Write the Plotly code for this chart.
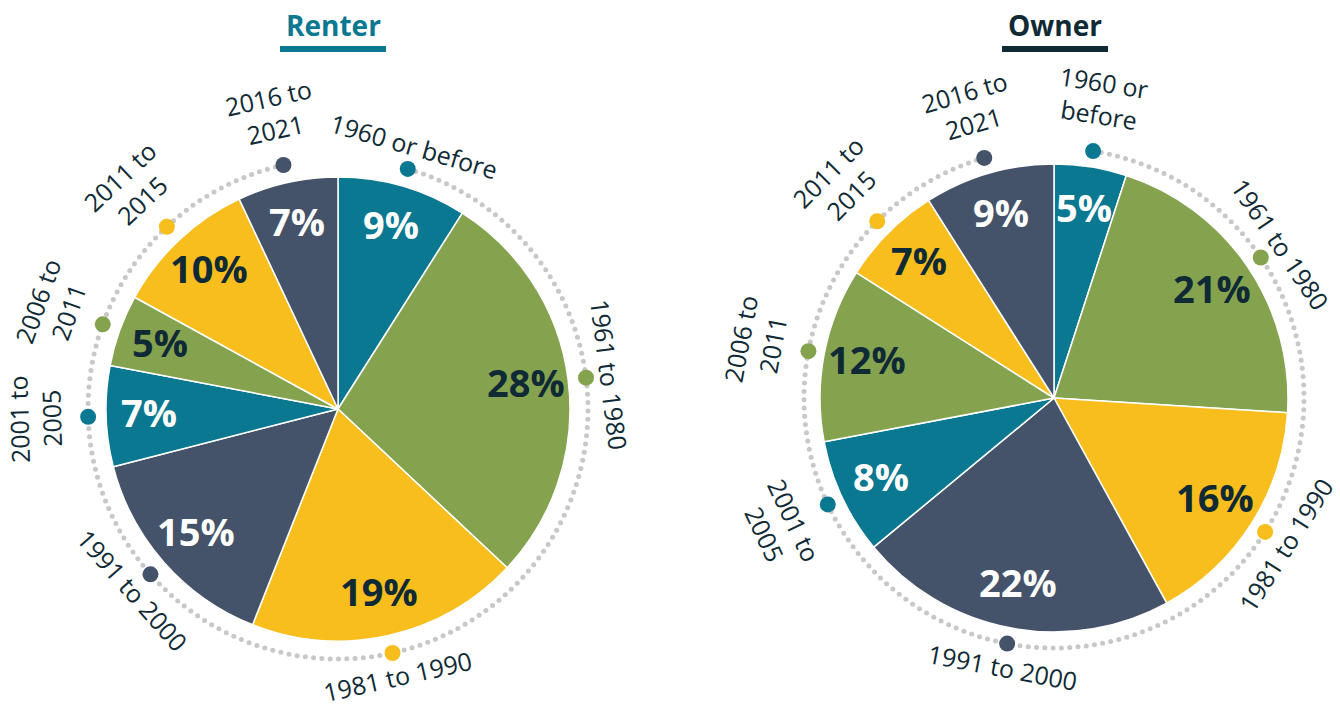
import numpy as np
import plotly.graph_objects as go

W, H = 1340, 708

# ---------------- data ----------------
titles = ["Renter", "Owner"]
renter_labels = ["1960 or before", "1961 to 1980", "1981 to 1990", "1991 to 2000",
                 "2001 to<br>2005", "2006 to<br>2011", "2011 to<br>2015", "2016 to<br>2021"]
renter_values = [9, 28, 19, 15, 7, 5, 10, 7]
owner_labels = ["1960 or<br>before", "1961 to 1980", "1981 to 1990", "1991 to 2000",
                "2001 to<br>2005", "2006 to<br>2011", "2011 to<br>2015", "2016 to<br>2021"]
owner_values = [5, 21, 16, 22, 8, 12, 7, 9]

# ---------------- style ----------------
TEAL, GREEN, YELLOW, SLATE = "#0b7891", "#85a34f", "#f8be1d", "#45536a"
DARK = "#0f2a35"
slice_colors = [TEAL, GREEN, YELLOW, SLATE, TEAL, GREEN, YELLOW, SLATE]
text_on = {TEAL: "white", GREEN: DARK, YELLOW: DARK, SLATE: "white"}
FONT = "Open Sans"

charts = [
    dict(title=titles[0], labels=renter_labels, values=renter_values,
         cx=338, cy=409, r=232, tcolor=TEAL, tx=333),
    dict(title=titles[1], labels=owner_labels, values=owner_values,
         cx=1054, cy=398, r=234, tcolor=DARK, tx=1055),
]

RING = 250          # radius of dotted ring
DOT_STEP = 1.9      # degrees between ring dots

fig = go.Figure()
annotations = []
shapes = []

for ch in charts:
    cx, cy, r = ch["cx"], ch["cy"], ch["r"]
    vals = np.array(ch["values"], dtype=float)
    fig.add_trace(go.Pie(
        values=ch["values"], labels=[l.replace("<br>", " ") for l in ch["labels"]],
        sort=False, direction="clockwise", rotation=0,
        marker=dict(colors=slice_colors, line=dict(color="white", width=1.5)),
        textinfo="none", hoverinfo="skip",
        domain=dict(x=[(cx - r) / W, (cx + r) / W], y=[1 - (cy + r) / H, 1 - (cy - r) / H]),
    ))
    frac = vals / vals.sum()
    mids = (np.cumsum(frac) - frac / 2) * 360.0
    th = np.radians(mids)

    # percentage labels inside slices
    rr = 0.815 * r
    for v, t, col in zip(ch["values"], th, slice_colors):
        annotations.append(dict(
            x=cx + rr * np.sin(t), y=cy - rr * np.cos(t) - 3, xref="x", yref="y",
            text=f"<b>{v}%</b>", showarrow=False, xanchor="center", yanchor="middle",
            font=dict(family=FONT, size=38, color=text_on[col])))

    # dotted ring from first to last marker
    n = int((mids[-1] - mids[0]) / DOT_STEP) + 1
    ring = np.radians(np.linspace(mids[0], mids[-1], n))
    fig.add_trace(go.Scatter(
        x=cx + RING * np.sin(ring), y=cy - RING * np.cos(ring), mode="markers",
        marker=dict(size=5, color="#c8c8c8"), hoverinfo="skip", showlegend=False))
    fig.add_trace(go.Scatter(
        x=cx + RING * np.sin(th), y=cy - RING * np.cos(th), mode="markers",
        marker=dict(size=16, color=slice_colors), hoverinfo="skip", showlegend=False))

    # period labels along the ring
    for lab, m in zip(ch["labels"], mids):
        two = "<br>" in lab
        rl = RING + (53 if two else 24)
        t = np.radians(m)
        if 100 < m < 260:
            ang = m - 180
        elif m >= 260:
            ang = m - 360
        else:
            ang = m
        annotations.append(dict(
            x=cx + rl * np.sin(t), y=cy - rl * np.cos(t), xref="x", yref="y",
            text=lab, showarrow=False, xanchor="center", yanchor="middle",
            textangle=ang, align="center", borderpad=0,
            font=dict(family=FONT, size=25, color=DARK)))

    # title with underline
    tx = ch["tx"]
    annotations.append(dict(
        x=tx, y=25, xref="x", yref="y", text=f"<b>{ch['title']}</b>",
        showarrow=False, xanchor="center", yanchor="middle",
        font=dict(family=FONT, size=28, color=ch["tcolor"])))
    shapes.append(dict(type="rect", xref="x", yref="y",
                       x0=tx - 53, x1=tx + 53, y0=46, y1=52,
                       fillcolor=ch["tcolor"], line=dict(width=0)))

fig.update_layout(
    width=W, height=H, margin=dict(l=0, r=0, t=0, b=0),
    paper_bgcolor="white", plot_bgcolor="white", showlegend=False,
    xaxis=dict(range=[0, W], visible=False, fixedrange=True),
    yaxis=dict(range=[H, 0], visible=False, fixedrange=True),
    annotations=annotations, shapes=shapes,
)

fig.write_html("out.html", config={"displayModeBar": False},
               post_script="document.body.style.margin='0px';document.body.style.overflow='hidden';")
